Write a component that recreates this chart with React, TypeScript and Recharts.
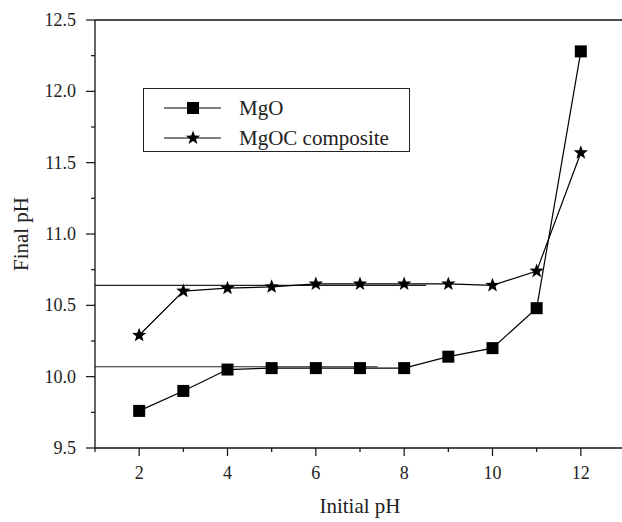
import React from 'react';
import { LineChart, Line, XAxis, YAxis, ReferenceLine, Legend } from 'recharts';

// initial pH of the solution vs final pH after contact
const initialPH = [2, 3, 4, 5, 6, 7, 8, 9, 10, 11, 12];
const mgoFinal = [9.76, 9.9, 10.05, 10.06, 10.06, 10.06, 10.06, 10.14, 10.2, 10.48, 12.28];
const mgocFinal = [10.29, 10.6, 10.62, 10.63, 10.65, 10.65, 10.65, 10.65, 10.64, 10.74, 11.57];

// plateau guide lines (start / end on the x axis, level)
const mgoPlateauX = [1, 7.4];
const mgoPlateauY = 10.07;
const mgocPlateauX = [1, 8.5];
const mgocPlateauY = 10.64;

const xTicks = [1, 2, 3, 4, 5, 6, 7, 8, 9, 10, 11, 12, 13];
const xLabelTicks = [2, 4, 6, 8, 10, 12];
const yTicks = [9.5, 9.75, 10, 10.25, 10.5, 10.75, 11, 11.25, 11.5, 11.75, 12, 12.25, 12.5];
const yLabelTicks = [9.5, 10, 10.5, 11, 11.5, 12, 12.5];

const data = initialPH.map((ph, i) => ({ ph, mgo: mgoFinal[i], mgoc: mgocFinal[i] }));

const FONT = '"Liberation Serif", "Times New Roman", serif';
const INK = '#111';
const serif = { fontFamily: FONT };

const starPoints = (cx: number, cy: number, ro: number, ri: number) => {
  const pts: string[] = [];
  for (let k = 0; k < 10; k++) {
    const r = k % 2 === 0 ? ro : ri;
    const a = -Math.PI / 2 + (k * Math.PI) / 5;
    pts.push(`${cx + r * Math.cos(a)},${cy + r * Math.sin(a)}`);
  }
  return pts.join(' ');
};

const SquareDot = (props: any) => {
  const { cx, cy, index } = props;
  if (cx == null || cy == null) return <g key={`s-${index}`} />;
  return <rect key={`s-${index}`} x={cx - 6} y={cy - 6} width={12} height={12} fill="#000" />;
};

const StarDot = (props: any) => {
  const { cx, cy, index } = props;
  if (cx == null || cy == null) return <g key={`st-${index}`} />;
  return <polygon key={`st-${index}`} points={starPoints(cx, cy, 7.5, 3.1)} fill="#000" />;
};

const XTick = (props: any) => {
  const { x, y, payload } = props;
  const major = xLabelTicks.includes(payload.value);
  return (
    <g>
      <line x1={x} y1={y} x2={x} y2={y + (major ? 8 : 4)} stroke={INK} strokeWidth={1.2} />
      {major && (
        <text x={x} y={y + 31} textAnchor="middle" style={serif} fontSize={18} fill="#222">
          {payload.value}
        </text>
      )}
    </g>
  );
};

const YTick = (props: any) => {
  const { x, y, payload } = props;
  const major = yLabelTicks.includes(payload.value);
  return (
    <g>
      <line x1={x - (major ? 9 : 4)} y1={y} x2={x} y2={y} stroke={INK} strokeWidth={1.2} />
      {major && (
        <text x={x - 19} y={y + 6} textAnchor="end" style={serif} fontSize={18} fill="#222">
          {payload.value.toFixed(1)}
        </text>
      )}
    </g>
  );
};

const LegendBox = (props: any) => {
  const { payload } = props;
  return (
    <div style={{ border: '1px solid #222', width: 265, height: 62, background: '#fff' }}>
      <svg width={265} height={62}>
        {(payload || []).map((entry: any, i: number) => {
          const cy = 19 + i * 30;
          return (
            <g key={entry.value}>
              <line x1={20} y1={cy} x2={77} y2={cy} stroke="#000" strokeWidth={1.2} />
              {entry.dataKey === 'mgo' ? (
                <rect x={43} y={cy - 6} width={12} height={12} fill="#000" />
              ) : (
                <polygon points={starPoints(49, cy, 7.5, 3.1)} fill="#000" />
              )}
              <text x={95} y={cy + 7} style={serif} fontSize={21} fill="#222">
                {entry.value}
              </text>
            </g>
          );
        })}
      </svg>
    </div>
  );
};

export default function App() {
  return (
    <div style={{ position: 'absolute', left: 0, top: 0, width: 622, height: 522, overflow: 'hidden', background: '#fff', fontFamily: FONT }}>
      <LineChart width={630} height={522} data={data} margin={{ top: 20, right: 5, bottom: 0, left: 0 }} style={serif}>
        <XAxis
          dataKey="ph"
          type="number"
          domain={[1, 13]}
          ticks={xTicks}
          interval={0}
          tickSize={0}
          tickMargin={0}
          tickLine={false}
          tick={<XTick />}
          axisLine={{ stroke: INK, strokeWidth: 1.3 }}
          height={74}
          label={{
            content: (p: any) => {
              const vb = p.viewBox;
              return (
                <text x={vb.x + vb.width / 2} y={vb.y + 65} textAnchor="middle" style={serif} fontSize={21} fill="#222">
                  Initial pH
                </text>
              );
            },
          }}
        />
        <YAxis
          type="number"
          domain={[9.5, 12.5]}
          ticks={yTicks}
          interval={0}
          tickSize={0}
          tickMargin={0}
          tickLine={false}
          tick={<YTick />}
          axisLine={{ stroke: INK, strokeWidth: 1.3 }}
          width={95}
          label={{
            content: (p: any) => {
              const vb = p.viewBox;
              const cx = vb.x + 28;
              const cy = vb.y + vb.height / 2;
              return (
                <text x={cx} y={cy} transform={`rotate(-90, ${cx}, ${cy})`} textAnchor="middle" style={serif} fontSize={21} fill="#222">
                  Final pH
                </text>
              );
            },
          }}
        />
        <ReferenceLine y={12.5} stroke={INK} strokeWidth={1.3} ifOverflow="visible" />
        <ReferenceLine
          segment={[{ x: mgocPlateauX[0], y: mgocPlateauY }, { x: mgocPlateauX[1], y: mgocPlateauY }]}
          stroke="#222"
          strokeWidth={1.1}
        />
        <ReferenceLine
          segment={[{ x: mgoPlateauX[0], y: mgoPlateauY }, { x: mgoPlateauX[1], y: mgoPlateauY }]}
          stroke="#222"
          strokeWidth={1.1}
        />
        <Legend
          layout="vertical"
          align="center"
          verticalAlign="middle"
          content={<LegendBox />}
          wrapperStyle={{ position: 'absolute', left: 143, top: 88, width: 'auto', height: 'auto' }}
        />
        <Line type="linear" dataKey="mgo" name="MgO" stroke="#000" strokeWidth={1.2} dot={SquareDot} activeDot={false} isAnimationActive={false} />
        <Line type="linear" dataKey="mgoc" name="MgOC composite" stroke="#000" strokeWidth={1.2} dot={StarDot} activeDot={false} isAnimationActive={false} />
      </LineChart>
    </div>
  );
}
